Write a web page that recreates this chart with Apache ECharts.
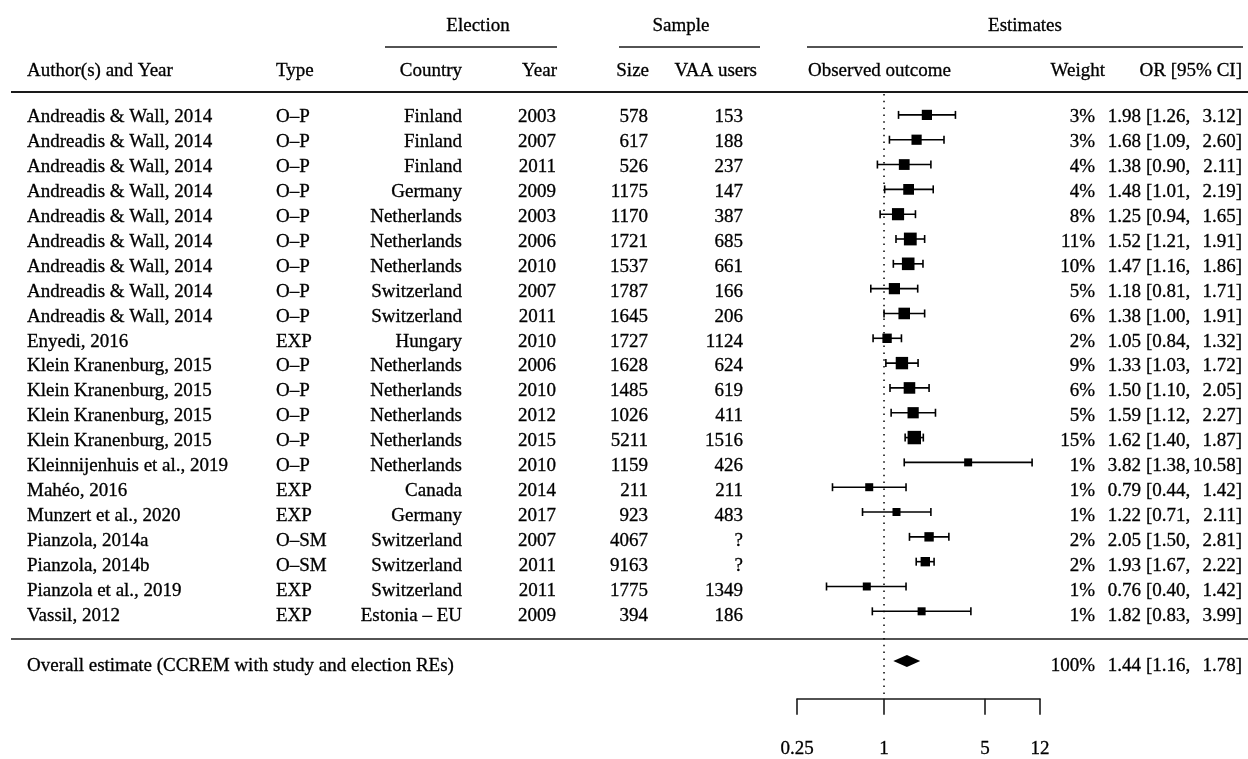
<!DOCTYPE html>
<html>
<head>
<meta charset="utf-8">
<script src="https://cdn.jsdelivr.net/npm/echarts@6/dist/echarts.min.js"></script>
<style>
  html, body { margin: 0; padding: 0; background: #fff; }
  #main { width: 1248px; height: 759px; }
</style>
</head>
<body>
<div id="main"></div>
<script>
// ---- study data ----
const authors = [
  "Andreadis & Wall, 2014", "Andreadis & Wall, 2014", "Andreadis & Wall, 2014",
  "Andreadis & Wall, 2014", "Andreadis & Wall, 2014", "Andreadis & Wall, 2014",
  "Andreadis & Wall, 2014", "Andreadis & Wall, 2014", "Andreadis & Wall, 2014",
  "Enyedi, 2016", "Klein Kranenburg, 2015", "Klein Kranenburg, 2015",
  "Klein Kranenburg, 2015", "Klein Kranenburg, 2015", "Kleinnijenhuis et al., 2019",
  "Mahéo, 2016", "Munzert et al., 2020", "Pianzola, 2014a", "Pianzola, 2014b",
  "Pianzola et al., 2019", "Vassil, 2012"
];
const types = [
  "O–P", "O–P", "O–P", "O–P", "O–P", "O–P", "O–P", "O–P", "O–P",
  "EXP", "O–P", "O–P", "O–P", "O–P", "O–P",
  "EXP", "EXP", "O–SM", "O–SM", "EXP", "EXP"
];
const countries = [
  "Finland", "Finland", "Finland", "Germany", "Netherlands", "Netherlands",
  "Netherlands", "Switzerland", "Switzerland", "Hungary", "Netherlands",
  "Netherlands", "Netherlands", "Netherlands", "Netherlands", "Canada",
  "Germany", "Switzerland", "Switzerland", "Switzerland", "Estonia – EU"
];
const years = [2003, 2007, 2011, 2009, 2003, 2006, 2010, 2007, 2011, 2010, 2006,
               2010, 2012, 2015, 2010, 2014, 2017, 2007, 2011, 2011, 2009];
const sampleSizes = [578, 617, 526, 1175, 1170, 1721, 1537, 1787, 1645, 1727, 1628,
                     1485, 1026, 5211, 1159, 211, 923, 4067, 9163, 1775, 394];
const vaaUsers = ["153", "188", "237", "147", "387", "685", "661", "166", "206", "1124", "624",
                  "619", "411", "1516", "426", "211", "483", "?", "?", "1349", "186"];
const weights = [3, 3, 4, 4, 8, 11, 10, 5, 6, 2, 9, 6, 5, 15, 1, 1, 1, 2, 2, 1, 1];
const oddsRatios = [1.98, 1.68, 1.38, 1.48, 1.25, 1.52, 1.47, 1.18, 1.38, 1.05, 1.33,
                    1.50, 1.59, 1.62, 3.82, 0.79, 1.22, 2.05, 1.93, 0.76, 1.82];
const ciLower = [1.26, 1.09, 0.90, 1.01, 0.94, 1.21, 1.16, 0.81, 1.00, 0.84, 1.03,
                 1.10, 1.12, 1.40, 1.38, 0.44, 0.71, 1.50, 1.67, 0.40, 0.83];
const ciUpper = [3.12, 2.60, 2.11, 2.19, 1.65, 1.91, 1.86, 1.71, 1.91, 1.32, 1.72,
                 2.05, 2.27, 1.87, 10.58, 1.42, 2.11, 2.81, 2.22, 1.42, 3.99];

// ---- pooled estimate ----
const overallLabel = "Overall estimate (CCREM with study and election REs)";
const overallWeight = 100;
const overallOR = 1.44;
const overallLower = 1.16;
const overallUpper = 1.78;

// ---- headers and axis ticks ----
const groupHeaders = ["Election", "Sample", "Estimates"];
const columnHeaders = ["Author(s) and Year", "Type", "Country", "Year", "Size",
                       "VAA users", "Observed outcome", "Weight", "OR [95% CI]"];
const axisTickValues = [0.25, 1, 5, 12];

// ---- layout ----
const FONT = '"Liberation Serif", "Times New Roman", serif';
const FS = 19;
const TEXT_DY = 2;          // optical centring of text on the row line
const GRID_TOP = 94, GRID_BOTTOM = 57;
const ROW_MIN = -0.842, ROW_MAX = 23.527;   // row-index range covered by the grids
const OVERALL_ROW = 22;

// column anchors (pixels) and alignment
const COLS = [
  { x: 27,   align: 'left'  },  // author
  { x: 276,  align: 'left'  },  // type
  { x: 462,  align: 'right' },  // country
  { x: 556,  align: 'right' },  // year
  { x: 648,  align: 'right' },  // size
  { x: 743,  align: 'right' },  // VAA users
  { x: 1095, align: 'right' },  // weight
  { x: 1141, align: 'right' },  // OR
  { x: 1146, align: 'left'  },  // lower CI
  { x: 1242, align: 'right' }   // upper CI
];

const fmt = v => v.toFixed(2);

function rowTexts(i) {
  return [
    authors[i], types[i], countries[i], String(years[i]), String(sampleSizes[i]),
    vaaUsers[i], weights[i] + '%', fmt(oddsRatios[i]), '[' + fmt(ciLower[i]) + ',', fmt(ciUpper[i]) + ']'
  ];
}
const overallTexts = [overallLabel, '', '', '', '', '', overallWeight + '%',
  fmt(overallOR), '[' + fmt(overallLower) + ',', fmt(overallUpper) + ']'];

const textStyle = {
  fontSize: FS, fontFamily: FONT, fill: '#000',
  stroke: '#000', lineWidth: 0.3, verticalAlign: 'middle'
};

function textEl(str, x, y, align) {
  return {
    type: 'text',
    style: Object.assign({ text: str, x: x, y: y + TEXT_DY, align: align }, textStyle),
    silent: true
  };
}

// table rows: [rowIndex]
const tableData = authors.map((_, i) => [0, i]);
tableData.push([0, OVERALL_ROW]);

// forest rows: [or, rowIndex, lower, upper, weight]
const forestData = oddsRatios.map((v, i) => [v, i, ciLower[i], ciUpper[i], weights[i]]);

const chart = echarts.init(document.getElementById('main'), null, { renderer: 'canvas' });

// header graphics (column titles and rules)
const headerY = 69, groupY = 24;
const headerX = [27, 276, 462, 557, 649, 757, 808, 1105, 1242];
const headerAlign = ['left', 'left', 'right', 'right', 'right', 'right', 'left', 'right', 'right'];
const groupX = [478, 681, 1025];
const groupRules = [[385, 557], [619, 760], [807, 1243]];

const graphics = [];
columnHeaders.forEach((h, k) => {
  graphics.push({ type: 'text', x: headerX[k], y: headerY + TEXT_DY, silent: true,
    style: Object.assign({ text: h, align: headerAlign[k] }, textStyle) });
});
groupHeaders.forEach((h, k) => {
  graphics.push({ type: 'text', x: groupX[k], y: groupY + TEXT_DY, silent: true,
    style: Object.assign({ text: h, align: 'center' }, textStyle) });
  graphics.push({ type: 'line', silent: true,
    shape: { x1: groupRules[k][0], y1: 47, x2: groupRules[k][1], y2: 47 },
    style: { stroke: '#1a1a1a', lineWidth: 1.6 } });
});
graphics.push({ type: 'line', silent: true, shape: { x1: 11, y1: 92, x2: 1248, y2: 92 },
  style: { stroke: '#1a1a1a', lineWidth: 2 } });
graphics.push({ type: 'line', silent: true, shape: { x1: 11, y1: 639, x2: 1248, y2: 639 },
  style: { stroke: '#1a1a1a', lineWidth: 1.6 } });

const option = {
  backgroundColor: '#fff',
  animation: false,
  graphic: graphics,
  grid: [
    { left: 0, right: 0, top: GRID_TOP, bottom: GRID_BOTTOM },
    { left: 797, right: 208, top: GRID_TOP, bottom: GRID_BOTTOM }
  ],
  xAxis: [
    { gridIndex: 0, type: 'value', min: 0, max: 1248, show: false },
    {
      gridIndex: 1, type: 'log', logBase: 10, min: 0.25, max: 12,
      axisLine: { show: true, onZero: false, lineStyle: { color: '#1a1a1a', width: 1.6 } },
      axisTick: { show: true, length: 16, customValues: axisTickValues,
                  lineStyle: { color: '#1a1a1a', width: 1.6 } },
      axisLabel: { show: true, customValues: axisTickValues, margin: 41,
                   fontSize: FS, fontFamily: FONT, color: '#000',
                   textBorderColor: '#000', textBorderWidth: 0.3,
                   formatter: v => String(v) },
      splitLine: { show: false },
      minorTick: { show: false }
    }
  ],
  yAxis: [
    { gridIndex: 0, type: 'value', inverse: true, min: ROW_MIN, max: ROW_MAX, show: false },
    { gridIndex: 1, type: 'value', inverse: true, min: ROW_MIN, max: ROW_MAX, show: false }
  ],
  series: [
    {
      // text columns of the table
      type: 'custom', xAxisIndex: 0, yAxisIndex: 0, silent: true,
      data: tableData,
      renderItem: function (params, api) {
        const idx = params.dataIndex;
        const row = api.value(1);
        const y = api.coord([0, row])[1];
        const texts = idx < authors.length ? rowTexts(idx) : overallTexts;
        const children = [];
        texts.forEach((t, k) => {
          if (t) children.push(textEl(t, COLS[k].x, y, COLS[k].align));
        });
        return { type: 'group', children: children };
      }
    },
    {
      // reference line at OR = 1
      type: 'line', xAxisIndex: 1, yAxisIndex: 1, silent: true,
      data: [[1, ROW_MIN], [1, ROW_MAX]],
      symbol: 'none',
      lineStyle: { color: '#000', width: 1.5, type: [1.5, 5.3] },
      z: 1
    },
    {
      // study estimates with confidence intervals
      type: 'custom', xAxisIndex: 1, yAxisIndex: 1, silent: true,
      data: forestData,
      encode: { x: 0, y: 1 },
      clip: false,
      renderItem: function (params, api) {
        const row = api.value(1);
        const p = api.coord([api.value(0), row]);
        const pl = api.coord([api.value(2), row]);
        const ph = api.coord([api.value(3), row]);
        const s = 8 + 2 * Math.log(api.value(4));
        const cap = 4;
        const stroke = { stroke: '#000', lineWidth: 1.6 };
        return {
          type: 'group',
          children: [
            { type: 'line', shape: { x1: pl[0], y1: p[1], x2: ph[0], y2: p[1] }, style: stroke },
            { type: 'line', shape: { x1: pl[0], y1: p[1] - cap, x2: pl[0], y2: p[1] + cap }, style: stroke },
            { type: 'line', shape: { x1: ph[0], y1: p[1] - cap, x2: ph[0], y2: p[1] + cap }, style: stroke },
            { type: 'rect', shape: { x: p[0] - s / 2, y: p[1] - s / 2, width: s, height: s }, style: { fill: '#000' } }
          ]
        };
      },
      z: 3
    },
    {
      // pooled estimate diamond
      type: 'custom', xAxisIndex: 1, yAxisIndex: 1, silent: true,
      data: [[overallOR, OVERALL_ROW, overallLower, overallUpper]],
      encode: { x: 0, y: 1 },
      clip: false,
      renderItem: function (params, api) {
        const row = api.value(1);
        const p = api.coord([api.value(0), row]);
        const pl = api.coord([api.value(2), row]);
        const ph = api.coord([api.value(3), row]);
        const h = 6;
        return {
          type: 'polygon',
          shape: { points: [[pl[0], p[1]], [p[0], p[1] - h], [ph[0], p[1]], [p[0], p[1] + h]] },
          style: { fill: '#000' }
        };
      },
      z: 3
    }
  ]
};

chart.setOption(option);
</script>
</body>
</html>
